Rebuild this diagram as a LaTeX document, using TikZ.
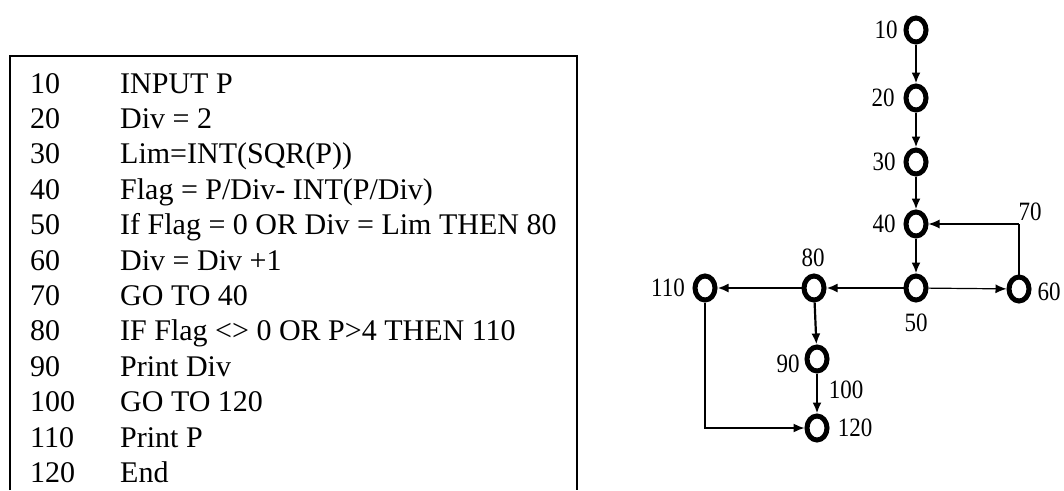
\documentclass[tikz,border=0pt]{standalone}
\usepackage{fontspec}
\setmainfont{Liberation Serif}
\usetikzlibrary{arrows.meta,shapes.geometric,positioning}
\begin{document}
\begin{tikzpicture}[x=1pt,y=-1pt,
  codetxt/.style={anchor=base west,inner sep=0pt,font=\fontsize{30}{35}\selectfont},
  vert/.style={ellipse,draw,line width=5pt,minimum width=20pt,minimum height=24pt,inner sep=0pt},
  lbl/.style={inner sep=0pt,font=\fontsize{23}{26}\selectfont,yscale=1.15,transform shape},
  edge/.style={line width=2.2pt,-{Latex[length=11pt,width=9pt]}},
  thinedge/.style={line width=1.2pt,-{Latex[length=11pt,width=9pt]}}]
\useasboundingbox (0,0) rectangle (1064,490);
% code box
\draw[line width=1.6pt] (10,490) -- (10,56) -- (577,56) -- (577,490);
\foreach \n/\t [count=\i from 0] in {10/{INPUT P},20/{Div = 2},30/{Lim=INT(SQR(P))},40/{Flag = P/Div- INT(P/Div)},50/{If Flag = 0 OR Div = Lim THEN 80},60/{Div = Div +1},70/{GO TO 40},80/{IF Flag <> 0 OR P>4 THEN 110},90/{Print Div},100/{GO TO 120},110/{Print P},120/{End}}{
  \node[codetxt] (n\n) at (30,93+35.4*\i) {\n};
  \node[codetxt] (t\n) at (120,93+35.4*\i) {\t};
}
% graph
\node[vert] (c10) at (916,30) {};
\node[vert] (c20) at (916,98) {};
\node[vert] (c30) at (916,162) {};
\node[vert] (c40) at (916,224) {};
\node[vert] (c50) at (916,288) {};
\node[vert] (c60) at (1019,289) {};
\node[vert] (c80) at (814,288) {};
\node[vert] (c110) at (705,288) {};
\node[vert] (c90) at (817,359) {};
\node[vert] (c120) at (817,428) {};
\coordinate (k70) at (1019,224);
\coordinate (k110) at (705,428);
\node[lbl] (g10) at (886,30) {10};
\node[lbl] (g20) at (883,98) {20};
\node[lbl] (g30) at (884,162) {30};
\node[lbl] (g40) at (884,224) {40};
\node[lbl] (g50) at (916,323) {50};
\node[lbl] (g60) at (1049,292) {60};
\node[lbl] (g80) at (813,258) {80};
\node[lbl,anchor=east] (g110) at (685,288) {110};
\node[lbl] (g90) at (788,364) {90};
\node[lbl] (g120) at (855,428) {120};
\node[lbl] (g70) at (1030,212) {70};
\node[lbl] (g100) at (846,390) {100};
\draw[edge] (c10) -- (c20);
\draw[edge] (c20) -- (c30);
\draw[edge] (c30) -- (c40);
\draw[edge] (c40) -- (c50);
\draw[edge] (c50) -- (c80);
\draw[edge] (c80) -- (c110);
\draw[thinedge] (c50) -- (c60);
\draw[line width=2pt] (c60) -- (k70);
\draw[thinedge] (k70) -- (c40);
\draw[edge] (c80) -- (c90);
\draw[edge] (c90) -- (c120);
\draw[thinedge,line width=1.6pt] (c110) -- (k110) -- (c120);
\end{tikzpicture}
\end{document}
